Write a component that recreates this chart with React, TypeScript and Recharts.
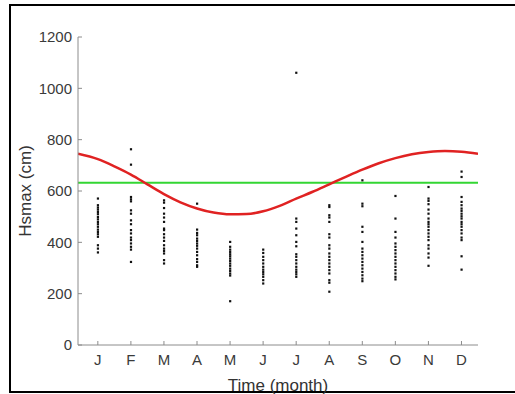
import React from 'react';
import { ComposedChart, XAxis, YAxis, Scatter, Line, ReferenceLine } from 'recharts';

const monthLabels = ['J', 'F', 'M', 'A', 'M', 'J', 'J', 'A', 'S', 'O', 'N', 'D'];
const monthTicks = [1, 2, 3, 4, 5, 6, 7, 8, 9, 10, 11, 12];
const yTicks = [0, 200, 400, 600, 800, 1000, 1200];

// yearly max wave height per month (cm)
const jan = [571, 545, 536, 528, 519, 510, 499, 490, 480, 471, 461, 450, 441, 432, 422, 389, 376, 361];
const feb = [763, 703, 577, 568, 560, 525, 512, 486, 471, 448, 435, 419, 409, 396, 383, 372, 324];
const mar = [564, 555, 534, 512, 497, 480, 454, 448, 432, 419, 406, 389, 376, 367, 357, 331, 318];
const apr = [551, 450, 437, 428, 415, 406, 396, 387, 376, 363, 350, 335, 324, 311, 305];
const may = [402, 383, 372, 363, 354, 346, 337, 328, 318, 309, 298, 289, 279, 271, 171];
const jun = [372, 359, 344, 331, 318, 305, 294, 285, 276, 266, 253, 240];
const jul = [1061, 493, 480, 454, 428, 402, 385, 354, 344, 331, 318, 305, 294, 285, 276, 266];
const aug = [545, 538, 506, 497, 480, 432, 419, 389, 376, 357, 344, 331, 318, 305, 292, 279, 253, 243, 208];
const sep = [642, 551, 541, 461, 441, 402, 376, 363, 350, 337, 324, 311, 298, 285, 272, 259, 249];
const oct = [581, 493, 441, 419, 396, 383, 370, 357, 344, 331, 318, 305, 292, 279, 266, 256];
const nov = [616, 571, 562, 549, 528, 512, 493, 480, 471, 461, 448, 435, 422, 409, 389, 376, 357, 341, 309];
const dec = [676, 655, 577, 558, 545, 532, 523, 512, 502, 493, 480, 471, 461, 448, 435, 419, 409, 346, 294];

// fitted seasonal curve
const curveX = [0.4, 1, 1.5, 2, 2.5, 3, 3.5, 4, 4.5, 5, 5.5, 6, 6.5, 7, 7.5, 8, 8.5, 9, 9.5, 10, 10.5, 11, 11.5, 12, 12.5];
const curveY = [745, 724, 696, 664, 626, 588, 556, 532, 516, 509, 510, 521, 542, 570, 597, 626, 655, 683, 708, 728, 743, 752, 756, 753, 745];

const threshold = 632;

const months = [jan, feb, mar, apr, may, jun, jul, aug, sep, oct, nov, dec];
const points = months.flatMap((vals, i) => vals.map((v) => ({ x: i + 1, y: v })));
const curve = curveX.map((x, i) => ({ x, y: curveY[i] }));

const tickStyle = { fontFamily: 'Liberation Sans, Arial, sans-serif', fontSize: 15, fill: '#3a3a3a' };

const Dot = (p: any) => <rect x={p.cx - 1} y={p.cy - 1} width={2.2} height={2.2} fill="#111" />;

export default function App() {
  return (
    <div style={{ position: 'absolute', left: 0, top: 0, width: 515, height: 394, background: '#fff', overflow: 'hidden' }}>
      <style>{'body{margin:0}'}</style>
      <div style={{ position: 'absolute', left: 9, top: 4, width: 520, height: 385, border: '2px solid #000' }} />
      <div style={{ position: 'absolute', left: 0, top: 0 }}>
        <ComposedChart width={515} height={394} margin={{ top: 37, right: 37, bottom: 0, left: 0 }}>
          <XAxis
            type="number"
            dataKey="x"
            domain={[0.4, 12.5]}
            ticks={monthTicks}
            tickFormatter={(v: number) => monthLabels[v - 1]}
            allowDataOverflow
            height={49}
            stroke="#8c8c8c"
            tickSize={-4}
            tickMargin={13}
            tick={tickStyle}
            label={{
              content: (p: any) => (
                <text
                  x={p.viewBox.x + p.viewBox.width / 2}
                  y={p.viewBox.y + 46}
                  textAnchor="middle"
                  style={{ fontFamily: 'Liberation Sans, Arial, sans-serif', fontSize: 17, fill: '#333' }}
                >
                  Time (month)
                </text>
              ),
            }}
          />
          <YAxis
            type="number"
            domain={[0, 1200]}
            ticks={yTicks}
            allowDataOverflow
            width={78}
            stroke="#8c8c8c"
            tickSize={-4}
            tickMargin={10}
            tick={tickStyle}
            label={{
              content: (p: any) => {
                const cx = p.viewBox.x + 25;
                const cy = p.viewBox.y + p.viewBox.height / 2;
                return (
                  <text
                    x={cx}
                    y={cy}
                    textAnchor="middle"
                    dominantBaseline="central"
                    transform={`rotate(-90 ${cx} ${cy})`}
                    style={{ fontFamily: 'Liberation Sans, Arial, sans-serif', fontSize: 17, fill: '#333' }}
                  >
                    Hsmax (cm)
                  </text>
                );
              },
            }}
          />
          <ReferenceLine y={threshold} stroke="#33d633" strokeWidth={2} />
          <Line data={curve} dataKey="y" type="monotone" stroke="#e02222" strokeWidth={2.5} dot={false} isAnimationActive={false} />
          <Scatter data={points} dataKey="y" shape={Dot} isAnimationActive={false} />
        </ComposedChart>
      </div>
    </div>
  );
}
